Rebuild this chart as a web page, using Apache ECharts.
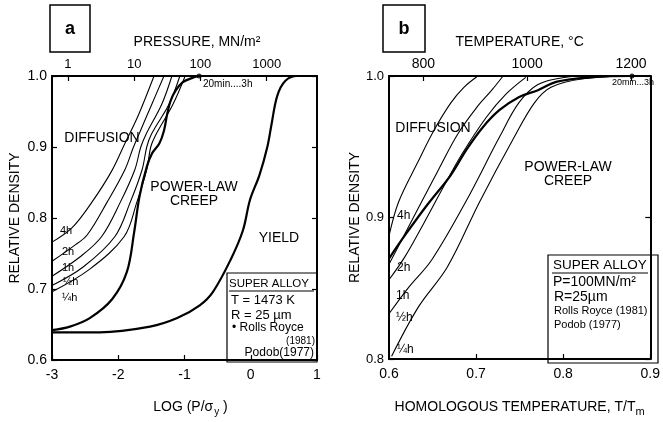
<!DOCTYPE html>
<html><head><meta charset="utf-8">
<script src="https://cdn.jsdelivr.net/npm/echarts@6/dist/echarts.min.js"></script>
<style>html,body{margin:0;padding:0;background:#fff}#c{width:663px;height:422px}</style>
</head><body><div id="c"></div>
<script>
// ---------- DATA (panel a: x = log(P/σy), y = relative density) ----------
const a_4h = [[-3.0,0.766],[-2.7,0.786],[-2.4,0.822],[-2.1,0.866],[-1.9,0.905],[-1.7,0.944],[-1.46,1.0]];
const a_2h = [[-3.0,0.739],[-2.68,0.760],[-2.47,0.776],[-2.17,0.822],[-1.90,0.868],[-1.77,0.900],[-1.66,0.924],[-1.49,0.961],[-1.31,1.0]];
const a_1h = [[-3.0,0.718],[-2.58,0.745],[-2.25,0.774],[-1.97,0.822],[-1.75,0.868],[-1.66,0.900],[-1.58,0.918],[-1.34,0.961],[-1.19,1.0]];
const a_half = [[-3.0,0.705],[-2.53,0.731],[-2.05,0.774],[-1.82,0.822],[-1.64,0.868],[-1.57,0.900],[-1.50,0.918],[-1.23,0.961],[-1.07,1.0]];
const a_quarter = [[-3.0,0.696],[-2.43,0.728],[-1.91,0.774],[-1.72,0.822],[-1.57,0.868],[-1.51,0.900],[-1.44,0.916],[-1.17,0.961],[-0.99,1.0]];
const a_creep = [[-3.0,0.642],[-2.73,0.647],[-2.43,0.659],[-2.09,0.686],[-1.87,0.724],[-1.76,0.780],[-1.68,0.830],[-1.57,0.872],[-1.49,0.891],[-1.38,0.905],[-1.31,0.923],[-1.26,0.947],[-1.21,0.965],[-1.13,0.980],[-1.03,0.991],[-0.89,0.997],[-0.78,1.0]];
const a_yield = [[-3.0,0.639],[-2.28,0.639],[-1.52,0.647],[-1.11,0.659],[-0.77,0.677],[-0.57,0.696],[-0.30,0.742],[-0.12,0.782],[-0.01,0.826],[0.13,0.860],[0.25,0.900],[0.31,0.930],[0.40,0.972],[0.52,0.993],[0.70,1.0],[1.0,1.0]];
const a_point = [[-0.78,1.0]];
const pressureTicks = [1,10,100,1000];      // MN/m²
const logSigmaY = 2.76;                       // log10 of yield stress (MN/m²)

// ---------- DATA (panel b: x = T/Tm, y = relative density) ----------
const b_4h = [[0.600,0.887],[0.611,0.911],[0.633,0.939],[0.652,0.962],[0.671,0.981],[0.686,0.992],[0.702,1.0]];
const b_2h = [[0.600,0.867],[0.634,0.907],[0.657,0.934],[0.679,0.959],[0.701,0.978],[0.718,0.990],[0.731,1.0]];
const b_1h = [[0.600,0.856],[0.618,0.872],[0.640,0.896],[0.662,0.921],[0.684,0.945],[0.712,0.971],[0.734,0.987],[0.757,0.999]];
const b_half = [[0.600,0.832],[0.623,0.851],[0.649,0.870],[0.688,0.911],[0.727,0.957],[0.749,0.981],[0.771,0.994],[0.801,0.999],[0.834,1.0]];
const b_quarter = [[0.603,0.802],[0.634,0.837],[0.667,0.865],[0.704,0.911],[0.744,0.957],[0.767,0.981],[0.786,0.992],[0.823,0.998],[0.879,1.0]];
const b_creep = [[0.600,0.871],[0.619,0.888],[0.644,0.909],[0.671,0.930],[0.689,0.948],[0.708,0.964],[0.727,0.976],[0.749,0.985],[0.771,0.990],[0.793,0.996],[0.831,0.999],[0.879,1.0],[0.9,1.0]];
const b_point = [[0.879,1.0]];
const tempTicks = [800,1000,1200];          // °C
const Tm = 1678;                              // melting temperature, K

// ---------- CHART ----------
const F = 'Liberation Sans';
const chart = echarts.init(document.getElementById('c'), null, {renderer:'canvas'});
const axLine = {show:true, onZero:false, lineStyle:{color:'#000', width:2}};
const tick = {show:true, inside:true, length:5, lineStyle:{color:'#000', width:1.2}};
function thin(data, xi){ return {type:'line', data, xAxisIndex:xi, yAxisIndex:xi, smooth:0.35, showSymbol:false, lineStyle:{color:'#000', width:1.1}, silent:true}; }
function thick(data, xi){ return {type:'line', data, xAxisIndex:xi, yAxisIndex:xi, smooth:0.35, showSymbol:false, lineStyle:{color:'#000', width:2.2}, silent:true}; }
function dot(data, xi){ return {type:'scatter', data, xAxisIndex:xi, yAxisIndex:xi, symbolSize:5, itemStyle:{color:'#000'}, clip:false, silent:true}; }
function txt(t, x, y, size, align, extra){ return Object.assign({type:'text', x, y, style:{text:t, font:'normal '+size+'px '+F, fill:'#000', align:align||'center', verticalAlign:'middle'}}, extra||{}); }

const option = {
  backgroundColor:'#fff',
  animation:false,
  grid:[
    {left:52, top:76, width:265, height:286},
    {left:389, top:76, width:269, height:287}
  ],
  xAxis:[
    {gridIndex:0, type:'value', min:-3, max:1, interval:1, position:'bottom', axisLine:axLine, axisTick:tick, splitLine:{show:false},
     axisLabel:{color:'#000', fontFamily:F, fontSize:14, margin:8},
     name:'LOG (P/σ{s|y} )', nameLocation:'middle', nameGap:38,
     nameTextStyle:{color:'#000', fontFamily:F, fontSize:14, padding:[0,0,0,12], rich:{s:{fontFamily:F, fontSize:10, padding:[9,0,0,1]}}}},
    {gridIndex:0, type:'value', min:-3+logSigmaY, max:1+logSigmaY, position:'top', axisLine:axLine, splitLine:{show:false},
     axisTick:Object.assign({customValues:pressureTicks.map(Math.log10)}, tick),
     axisLabel:{color:'#000', fontFamily:F, fontSize:13, margin:5, customValues:pressureTicks.map(Math.log10), formatter:v=>String(Math.round(Math.pow(10,v)))},
     name:'PRESSURE, MN/m²', nameLocation:'middle', nameGap:27,
     nameTextStyle:{color:'#000', fontFamily:F, fontSize:14, padding:[0,0,0,25]}},
    {gridIndex:1, type:'value', min:0.6, max:0.9, interval:0.1, position:'bottom', axisLine:axLine, axisTick:tick, splitLine:{show:false},
     axisLabel:{color:'#000', fontFamily:F, fontSize:14, margin:8, formatter:v=>v.toFixed(1)},
     name:'HOMOLOGOUS TEMPERATURE, T/T{s|m}', nameLocation:'middle', nameGap:38,
     nameTextStyle:{color:'#000', fontFamily:F, fontSize:14, padding:[0,0,0,0], rich:{s:{fontFamily:F, fontSize:11, padding:[9,0,0,0]}}}},
    {gridIndex:1, type:'value', min:0.6*Tm-273, max:0.9*Tm-273, position:'top', axisLine:axLine, splitLine:{show:false},
     axisTick:Object.assign({customValues:tempTicks}, tick),
     axisLabel:{color:'#000', fontFamily:F, fontSize:14, margin:5, customValues:tempTicks, formatter:v=>String(Math.round(v))},
     name:'TEMPERATURE, °C', nameLocation:'middle', nameGap:27,
     nameTextStyle:{color:'#000', fontFamily:F, fontSize:14}}
  ],
  yAxis:[
    {gridIndex:0, type:'value', min:0.6, max:1.0, interval:0.1, position:'left', axisLine:axLine, axisTick:tick, splitLine:{show:false},
     axisLabel:{color:'#000', fontFamily:F, fontSize:14, margin:5, formatter:v=>v.toFixed(1)},
     name:'RELATIVE DENSITY', nameLocation:'middle', nameGap:30,
     nameTextStyle:{color:'#000', fontFamily:F, fontSize:14}},
    {gridIndex:0, type:'value', min:0.6, max:1.0, interval:0.1, position:'right', axisLine:axLine, axisTick:tick, splitLine:{show:false}, axisLabel:{show:false}},
    {gridIndex:1, type:'value', min:0.8, max:1.0, interval:0.1, position:'left', axisLine:axLine, axisTick:tick, splitLine:{show:false},
     axisLabel:{color:'#000', fontFamily:F, fontSize:13, margin:5, formatter:v=>v.toFixed(1)},
     name:'RELATIVE DENSITY', nameLocation:'middle', nameGap:24,
     nameTextStyle:{color:'#000', fontFamily:F, fontSize:14}},
    {gridIndex:1, type:'value', min:0.8, max:1.0, interval:0.1, position:'right', axisLine:axLine, axisTick:tick, splitLine:{show:false}, axisLabel:{show:false}}
  ],
  series:[
    thin(a_4h,0), thin(a_2h,0), thin(a_1h,0), thin(a_half,0), thin(a_quarter,0),
    thick(a_creep,0), thick(a_yield,0), dot(a_point,0),
    thin(b_4h,2), thin(b_2h,2), thin(b_1h,2), thin(b_half,2), thin(b_quarter,2),
    thick(b_creep,2), dot(b_point,2)
  ],
  graphic:[
    {type:'rect', shape:{x:50,y:5,width:40,height:47}, style:{fill:'none', stroke:'#000', lineWidth:1.5}},
    {type:'text', x:70, y:29, style:{text:'a', font:'bold 18px '+F, fill:'#000', align:'center', verticalAlign:'middle'}},
    {type:'rect', shape:{x:383,y:5,width:42,height:47}, style:{fill:'none', stroke:'#000', lineWidth:1.5}},
    {type:'text', x:404, y:29, style:{text:'b', font:'bold 18px '+F, fill:'#000', align:'center', verticalAlign:'middle'}},
    // panel a annotations
    txt('DIFFUSION',102,138,14), txt('POWER-LAW',194,187,14), txt('CREEP',194,201,14), txt('YIELD',279,238,14),
    txt('20min....3h',203,84,10,'left'),
    txt('4h',60,231,11,'left'), txt('2h',62,252,11,'left'), txt('1h',62,268,11,'left'), txt('½h',63,282,11,'left'), txt('¼h',62,298,11,'left'),
    {type:'rect', shape:{x:227,y:273,width:90,height:89}, style:{fill:'#fff', stroke:'#000', lineWidth:1.2}},
    {type:'line', shape:{x1:229,y1:291,x2:314,y2:291}, style:{stroke:'#000', lineWidth:1}},
    txt('SUPER ALLOY',229,284,11.5,'left'),
    txt('T = 1473 K',231,300,13,'left'),
    txt('R = 25 µm',231,315,13,'left'),
    txt('• Rolls Royce',232,328,12,'left'),
    txt('(1981)',315,341,10,'right'),
    txt('Podob(1977)',314,353,12,'right'),
    // panel b annotations
    txt('DIFFUSION',433,128,14), txt('POWER-LAW',568,167,14), txt('CREEP',568,181,14),
    txt('20min...3h',654,83,9,'right'),
    txt('4h',397,216,12,'left'), txt('2h',397,268,12,'left'), txt('1h',396,296,12,'left'), txt('½h',396,318,12,'left'), txt('¼h',397,350,12,'left'),
    {type:'rect', shape:{x:548,y:255,width:110,height:108}, style:{fill:'#fff', stroke:'#000', lineWidth:1.2}},
    {type:'line', shape:{x1:552,y1:273,x2:648,y2:273}, style:{stroke:'#000', lineWidth:1}},
    txt('SUPER ALLOY',553,265,13.5,'left'),
    txt('P=100MN/m²',553,282,14,'left'),
    txt('R=25µm',554,297,14,'left'),
    txt('Rolls Royce (1981)',554,311,11,'left'),
    txt('Podob (1977)',554,325,11,'left')
  ]
};
chart.setOption(option);
</script></body></html>
